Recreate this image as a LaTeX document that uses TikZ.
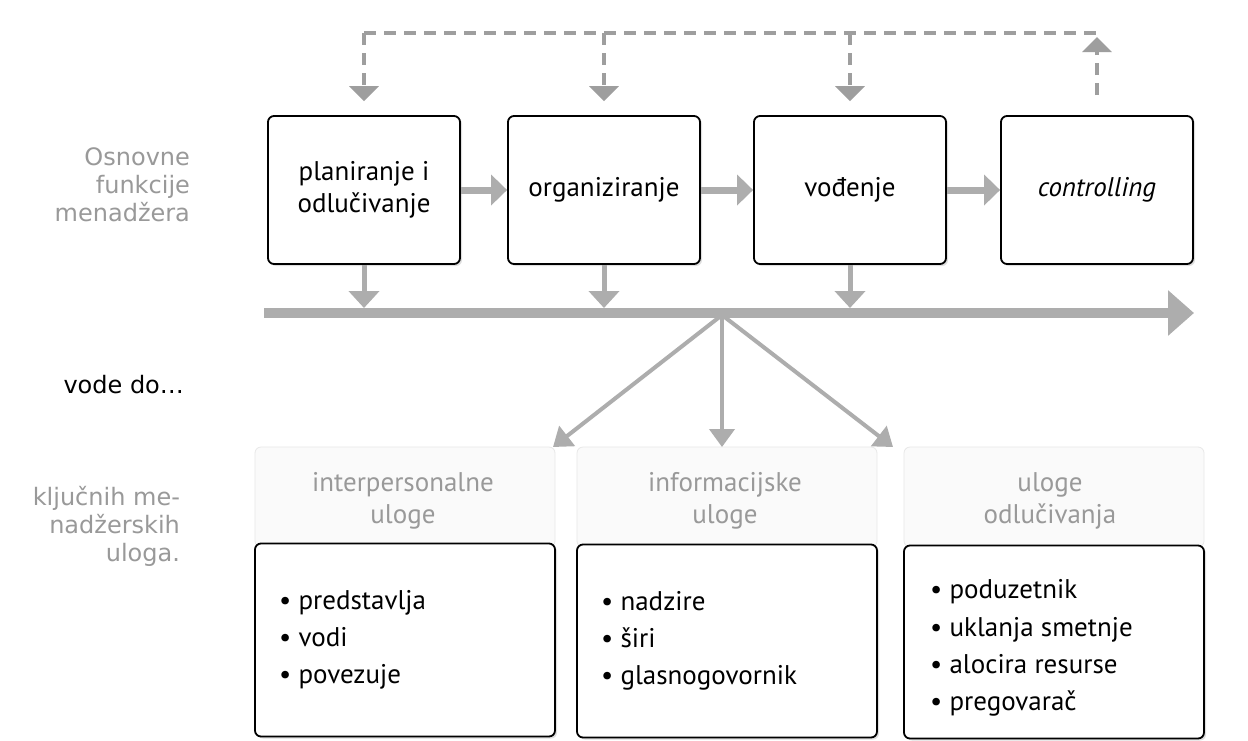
\documentclass[tikz,border=0pt]{standalone}
\usepackage{fontspec}
\setmainfont{PT Sans}
\newfontfamily\lijevifont{DejaVu Sans}
\usetikzlibrary{arrows.meta,shadows,positioning}
\definecolor{strelica}{gray}{0.68}
\definecolor{crtkana}{gray}{0.62}
\definecolor{sivitekst}{gray}{0.6}

\begin{document}
\begin{tikzpicture}[x=0.5pt, y=-0.5pt,
    funkcija/.style={draw=black, line width=0.9pt, rounded corners=3pt, fill=white,
        minimum width=96pt, minimum height=74pt, align=center,
        font=\fontsize{13.5}{16}\selectfont,
        drop shadow={opacity=0.25, shadow xshift=1pt, shadow yshift=-1pt}},
    uloga/.style={draw=black, line width=0.9pt, rounded corners=3pt, fill=white,
        minimum width=150pt, minimum height=96.5pt,
        drop shadow={opacity=0.25, shadow xshift=1pt, shadow yshift=-1pt}},
    panel/.style={draw=gray!18, fill=gray!4, rounded corners=3pt, text=sivitekst,
        minimum width=150pt, minimum height=50pt, align=center,
        font=\fontsize{13.5}{16}\selectfont},
    popis/.style={anchor=west, align=left, font=\fontsize{13.5}{18.6}\selectfont},
    lijevo/.style={anchor=east, align=right, text=sivitekst, font=\lijevifont\fontsize{12}{14}\selectfont},
    tok/.style={strelica, line width=3.5pt, -{Triangle[length=8pt,width=15pt]}},
    dolje/.style={strelica, line width=2.5pt, -{Triangle[length=8.5pt,width=15pt]}},
    crtkano/.style={crtkana, line width=2pt, dash pattern=on 6pt off 4pt},
    lepeza/.style={strelica, line width=2pt, -{Triangle[length=9pt,width=12.5pt]}}
]
\fill[white] (0,0) rectangle (1248,740);
\useasboundingbox (0,0) rectangle (1248,740);

% lijevi natpisi
\node[lijevo] (osnovne) at (197,185) {Osnovne\\funkcije\\menadžera};
\node[lijevo, text=black] (vode) at (191,385) {vode do…};
\node[lijevo] (kljucnih) at (187,526) {ključnih me-\\nadžerskih\\uloga.};

% osnovne funkcije
\node[funkcija] (plan) at (364,190) {planiranje i\\odlučivanje};
\node[funkcija] (org) at (604,190) {organiziranje};
\node[funkcija] (vod) at (850,190) {vođenje};
\node[funkcija] (ctrl) at (1097,190) {\itshape controlling};

\draw[tok] (plan.east) -- (org.west);
\draw[tok] (org.east) -- (vod.west);
\draw[tok] (vod.east) -- (ctrl.west);

% povratna veza
\coordinate (vrhL) at (plan.north |- 0,33);
\coordinate (vrhD) at (ctrl.north |- 0,33);
\draw[crtkano] (vrhL) -- (vrhD);
\draw[crtkano, -{Triangle[length=7.5pt,width=14.5pt]}, shorten >=7pt] (vrhL) -- (plan.north);
\draw[crtkano, -{Triangle[length=7.5pt,width=14.5pt]}, shorten >=7pt] (org.north |- vrhL) -- (org.north);
\draw[crtkano, -{Triangle[length=7.5pt,width=14.5pt]}, shorten >=7pt] (vod.north |- vrhL) -- (vod.north);
\draw[crtkano, -{Triangle[length=7.5pt,width=14.5pt]}, shorten <=10pt, shorten >=2pt] (ctrl.north) -- (vrhD);

% vremenska os
\coordinate (osL) at (264,313);
\coordinate (osD) at (1194,313);
\draw[strelica, line width=5pt, -{Triangle[length=13pt,width=22pt]}] (osL) -- (osD);
\foreach \f in {plan,org,vod}
    \draw[dolje] (\f.south) -- (\f.south |- 0,308);

% uloge
\node[panel] (hInt) at (405,497) {};
\node[panel] (hInf) at (727,497) {};
\node[panel] (hOdl) at (1054,497) {};
\node[text=sivitekst, align=center, font=\fontsize{13.5}{16}\selectfont] (tInt) at (403,501) {interpersonalne\\uloge};
\node[text=sivitekst, align=center, font=\fontsize{13.5}{16}\selectfont] (tInf) at (725,501) {informacijske\\uloge};
\node[text=sivitekst, align=center, font=\fontsize{13.5}{16}\selectfont] (tOdl) at (1050,501) {uloge\\odlučivanja};

\node[uloga] (int) at (405,640) {};
\node[uloga] (inf) at (727,641) {};
\node[uloga] (odl) at (1054,642) {};

\node[popis] (pInt) at ([xshift=9pt]int.west) {\textbullet\ predstavlja\\\textbullet\ vodi\\\textbullet\ povezuje};
\node[popis] (pInf) at ([xshift=9pt]inf.west) {\textbullet\ nadzire\\\textbullet\ širi\\\textbullet\ glasnogovornik};
\node[popis] (pOdl) at ([xshift=10pt, yshift=-3pt]odl.west) {\textbullet\ poduzetnik\\\textbullet\ uklanja smetnje\\\textbullet\ alocira resurse\\\textbullet\ pregovarač};

% grananje
\coordinate (fan) at (722,315);
\draw[lepeza] (fan) -- (553,447);
\draw[lepeza] (fan) -- (722,447);
\draw[lepeza] (fan) -- (893,447);
\end{tikzpicture}
\end{document}
